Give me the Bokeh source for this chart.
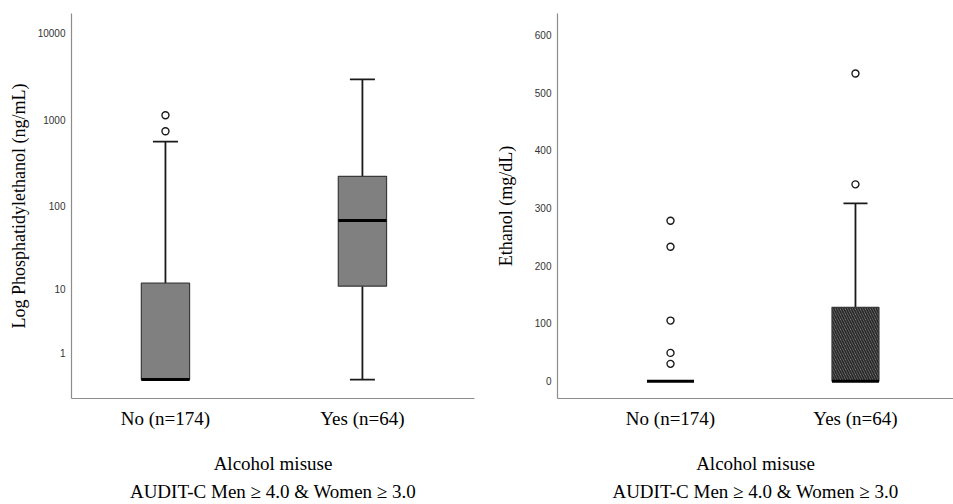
import numpy as np
from bokeh.plotting import figure
from bokeh.layouts import row
from bokeh.models import FixedTicker, CustomJSTickFormatter, Range1d, Title
from bokeh.embed import file_html
from bokeh.resources import INLINE

# ---------------- data ----------------
groups = ["No (n=174)", "Yes (n=64)"]
xpos = [1, 2]

# Panel A: Phosphatidylethanol (ng/mL), log(x+1) axis
peth_lower = [0, 0]
peth_q1 = [0, 11]
peth_median = [0, 68]
peth_q3 = [12, 222]
peth_upper = [560, 2935]
peth_out_no = [740, 1130]
peth_out_yes = []
peth_ticks = [1, 10, 100, 1000, 10000]

# Panel B: Ethanol (mg/dL)
eth_lower = [0, 0]
eth_q1 = [0, 0]
eth_median = [0, 0]
eth_q3 = [0, 128]
eth_upper = [0, 308]
eth_out_no = [30, 49, 105, 233, 278]
eth_out_yes = [341, 533]
eth_ticks = [0, 100, 200, 300, 400, 500, 600]

xlabel1 = "Alcohol misuse"
xlabel2 = "AUDIT-C Men \u2265 4.0 & Women \u2265 3.0"

SERIF = "Liberation Serif"
SANS = "Liberation Sans"


def style(p, ylabel, ylabel_standoff):
    p.grid.visible = False
    p.outline_line_color = None
    p.background_fill_color = "white"
    p.border_fill_color = "white"
    for ax in (p.xaxis[0], p.yaxis[0]):
        ax.axis_line_color = "#8c8c8c"
        ax.axis_line_width = 1.2
        ax.major_tick_line_color = None
        ax.minor_tick_line_color = None
        ax.major_tick_out = 0
        ax.major_tick_in = 0
        ax.axis_label_text_font = SERIF
        ax.axis_label_text_font_style = "normal"
        ax.axis_label_text_color = "black"
    p.xaxis.ticker = FixedTicker(ticks=xpos)
    p.xaxis.major_label_overrides = {1: groups[0], 2: groups[1]}
    p.xaxis.major_label_text_font = SERIF
    p.xaxis.major_label_text_font_size = "19px"
    p.xaxis.major_label_text_color = "black"
    p.xaxis.major_label_standoff = 9
    p.xaxis.axis_label = xlabel1
    p.xaxis.axis_label_text_font_size = "19px"
    p.xaxis.axis_label_standoff = 21
    p.yaxis.major_label_text_font = SANS
    p.yaxis.major_label_text_font_size = "10px"
    p.yaxis.major_label_text_color = "#333333"
    p.yaxis.major_label_standoff = 6
    p.yaxis.axis_label = ylabel
    p.yaxis.axis_label_text_font_size = "18px"
    p.yaxis.axis_label_standoff = ylabel_standoff
    p.add_layout(Title(text=xlabel2, align="center", text_font=SERIF,
                       text_font_size="19px", text_font_style="normal",
                       text_color="black", standoff=4), "below")


def draw_boxes(p, tf, lower, q1, med, q3, upper, outs, bw, cw, hatch=None):
    lo = [tf(v) for v in lower]
    b1 = [tf(v) for v in q1]
    md = [tf(v) for v in med]
    b3 = [tf(v) for v in q3]
    up = [tf(v) for v in upper]
    p.segment(xpos, b3, xpos, up, line_color="#1a1a1a", line_width=1.8)
    p.segment(xpos, lo, xpos, b1, line_color="#1a1a1a", line_width=1.8)
    for i in range(len(xpos)):
        x0, x1 = xpos[i] - cw / 2, xpos[i] + cw / 2
        if up[i] > b3[i]:
            p.segment([x0], [up[i]], [x1], [up[i]], line_color="#1a1a1a", line_width=1.8)
        if lo[i] < b1[i]:
            p.segment([x0], [lo[i]], [x1], [lo[i]], line_color="#1a1a1a", line_width=1.8)
    for i in range(len(xpos)):
        kw = dict(fill_color="#808080", line_color="#3a3a3a", line_width=1.2)
        if hatch is not None and hatch[i]:
            kw.update(fill_color="#909090", hatch_pattern="left_diagonal_line",
                      hatch_color="#2a2a2a", hatch_scale=5, hatch_weight=1.8)
        p.vbar(x=[xpos[i]], width=bw, bottom=[b1[i]], top=[b3[i]], **kw)
    p.segment([x - bw / 2 for x in xpos], md, [x + bw / 2 for x in xpos], md,
              line_color="black", line_width=3)
    for i, o in enumerate(outs):
        if len(o):
            p.scatter([xpos[i]] * len(o), [tf(v) for v in o], marker="circle", size=7,
                      fill_color="white", line_color="#1a1a1a", line_width=1.4)


# ---------------- Panel A ----------------
def tfa(v):
    return float(np.log10(v + 1.0))


pa = figure(width=490, height=504, output_backend="svg", toolbar_location=None,
            x_range=Range1d(0.523, 2.569), y_range=Range1d(-0.219, 4.23),
            min_border_left=71, min_border_right=16, min_border_top=13, min_border_bottom=106)
style(pa, "Log Phosphatidylethanol (ng/mL)", 6)
pa.yaxis.ticker = FixedTicker(ticks=[tfa(v) for v in peth_ticks])
pa.yaxis.formatter = CustomJSTickFormatter(code="return String(Math.round(Math.pow(10, tick) - 1));")
draw_boxes(pa, tfa, peth_lower, peth_q1, peth_median, peth_q3, peth_upper,
           [peth_out_no, peth_out_yes], bw=0.245, cw=0.127)

# ---------------- Panel B ----------------
def tfb(v):
    return float(v)


pb = figure(width=463, height=504, output_backend="svg", toolbar_location=None,
            x_range=Range1d(0.389, 2.53), y_range=Range1d(-30, 637),
            min_border_left=67, min_border_right=0, min_border_top=13, min_border_bottom=106)
style(pb, "Ethanol (mg/dL)", 16)
pb.yaxis.ticker = FixedTicker(ticks=eth_ticks)
draw_boxes(pb, tfb, eth_lower, eth_q1, eth_median, eth_q3, eth_upper,
           [eth_out_no, eth_out_yes], bw=0.254, cw=0.13, hatch=[False, True])

layout = row(pa, pb)
open("out.html", "w").write(file_html(layout, INLINE))
